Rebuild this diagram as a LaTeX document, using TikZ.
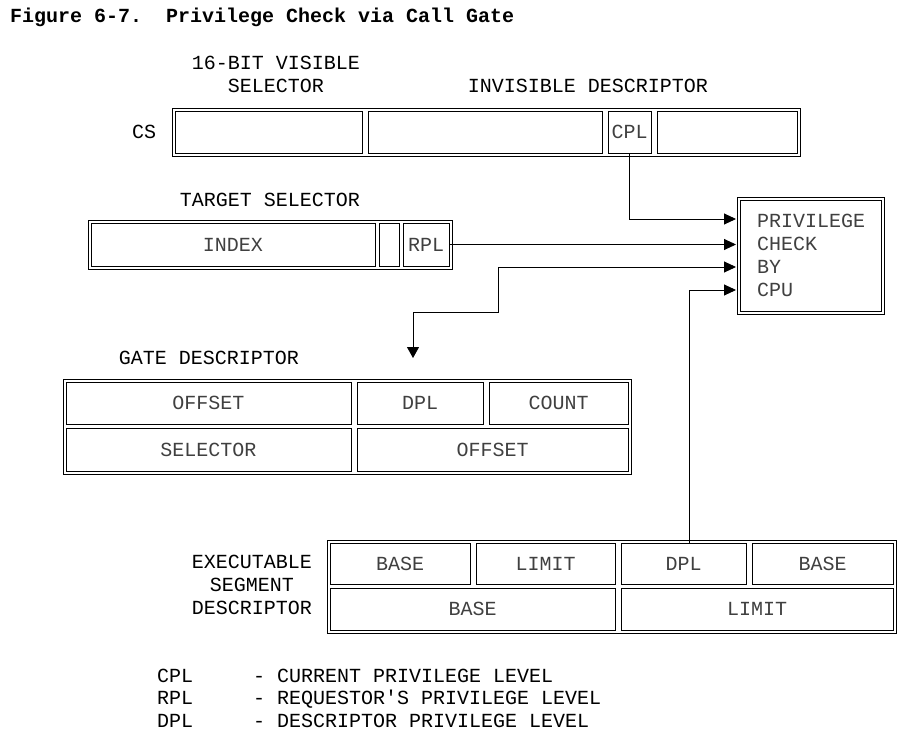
\documentclass[tikz,border=0pt]{standalone}
\usepackage{fontspec}
\setmonofont{Liberation Mono}
\usetikzlibrary{arrows.meta}

\tikzset{
  cell/.style={draw, line width=0.9pt, inner sep=0pt, text=black!75},
  frame/.style={draw, line width=0.9pt},
  lbl/.style={inner sep=0pt},
  arr/.style={line width=0.9pt, -{Triangle[length=12pt,width=11pt]}},
}

\begin{document}
\begin{tikzpicture}[x=1pt, y=-1pt, every node/.style={font=\ttfamily\fontsize{20}{23}\selectfont}]
        \useasboundingbox (0,0) rectangle (923,749);
        \node[lbl, anchor=base west, font=\ttfamily\bfseries\fontsize{20}{23}\selectfont] (title) at (10,23) {Figure 6-7.\ \ Privilege Check via Call Gate};

        % CS register
        \node[lbl, align=center] (vislbl) at (276,74.5) {16-BIT VISIBLE\\SELECTOR};
        \node[lbl] (invlbl) at (588,86) {INVISIBLE DESCRIPTOR};
        \node[lbl] (cslbl) at (144,132) {CS};
        \draw[frame] (172,108) rectangle (800,156);
        \node[cell, minimum width=187, minimum height=42] (cs1) at (268.5,132) {};
        \node[cell, minimum width=234, minimum height=42] (cs2) at (485,132) {};
        \node[cell, minimum width=43, minimum height=42] (cpl) at (629.5,132) {CPL};
        \node[cell, minimum width=140, minimum height=42] (cs4) at (727,132) {};

        % target selector
        \node[lbl] (tgtlbl) at (270,200) {TARGET SELECTOR};
        \draw[frame] (88,220) rectangle (452,269);
        \node[cell, minimum width=284, minimum height=43] (index) at (233,244.5) {INDEX};
        \node[cell, minimum width=20, minimum height=43] (ti) at (389,244.5) {};
        \node[cell, minimum width=46, minimum height=43] (rpl) at (426,244.5) {RPL};

        % privilege check
        \draw[frame] (737,197) rectangle (884,314);
        \node[cell, minimum width=141, minimum height=111] (priv) at (810.5,255.5) {};
        \node[lbl, align=left, anchor=west, text=black!75] (privtxt) at (757,255.5) {PRIVILEGE\\CHECK\\BY\\CPU};
        \coordinate (p1) at (736,219);
        \coordinate (p2) at (736,243);
        \coordinate (p3) at (736,267);
        \coordinate (p4) at (736,290);
        \coordinate (gd) at (413,363);
        \coordinate (gbend) at (498,312);

        % gate descriptor
        \node[lbl] (gatelbl) at (209,358) {GATE DESCRIPTOR};
        \draw[frame] (63,379) rectangle (631,474);
        \node[cell, minimum width=285, minimum height=42] (goff1) at (208.5,403) {OFFSET};
        \node[cell, minimum width=126, minimum height=42] (gdpl) at (420,403) {DPL};
        \node[cell, minimum width=139, minimum height=42] (gcnt) at (558.5,403) {COUNT};
        \node[cell, minimum width=285, minimum height=43] (gsel) at (208.5,449.5) {SELECTOR};
        \node[cell, minimum width=271, minimum height=43] (goff2) at (492.5,449.5) {OFFSET};

        % executable segment descriptor
        \node[lbl, align=center] (execlbl) at (252,584.5) {EXECUTABLE\\SEGMENT\\DESCRIPTOR};
        \draw[frame] (327,540) rectangle (896,633);
        \node[cell, minimum width=140, minimum height=41] (ebase1) at (400,563.5) {BASE};
        \node[cell, minimum width=139, minimum height=41] (elim1) at (545.5,563.5) {LIMIT};
        \node[cell, minimum width=125, minimum height=41] (edpl) at (683.5,563.5) {DPL};
        \node[cell, minimum width=141, minimum height=41] (ebase2) at (822.5,563.5) {BASE};
        \node[cell, minimum width=285, minimum height=42] (ebase3) at (472.5,609) {BASE};
        \node[cell, minimum width=272, minimum height=42] (elim2) at (757,609) {LIMIT};

        \draw[arr] (cpl.south) |- (p1);
        \draw[arr] (rpl.east) -- (rpl.east -| p2);
        \draw[line width=0.9pt, {Triangle[length=11pt,width=12pt,sep=5pt]}-{Triangle[length=12pt,width=11pt]}] (gd) |- (gbend) |- (p3);
        \draw[arr] ([xshift=6pt]edpl.north) |- (p4);

        % legend
        \node[lbl, anchor=base west] (lcpl) at (157,682) {CPL};
        \node[lbl, anchor=base west] (lcpltxt) at (253,682) {- CURRENT PRIVILEGE LEVEL};
        \node[lbl, anchor=base west] (lrpl) at (157,704) {RPL};
        \node[lbl, anchor=base west] (lrpltxt) at (253,704) {- REQUESTOR'S PRIVILEGE LEVEL};
        \node[lbl, anchor=base west] (ldpl) at (157,727) {DPL};
        \node[lbl, anchor=base west] (ldpltxt) at (253,727) {- DESCRIPTOR PRIVILEGE LEVEL};
\end{tikzpicture}
\end{document}
